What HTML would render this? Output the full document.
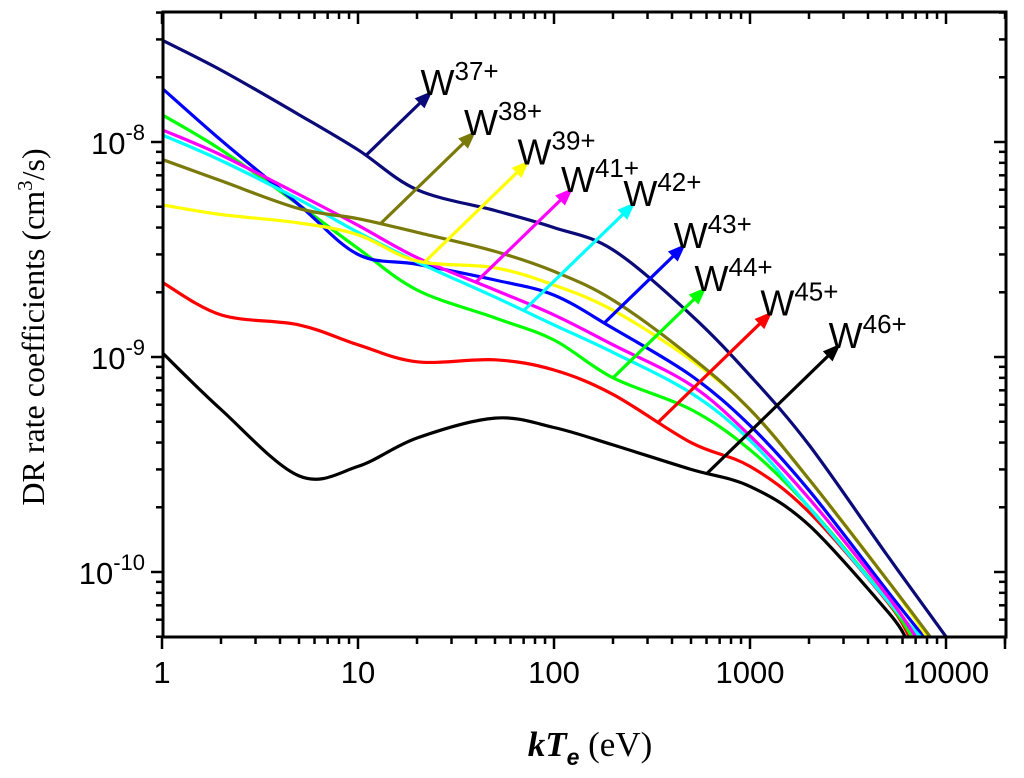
<!DOCTYPE html>
<html><head><meta charset="utf-8"><style>
body{margin:0;background:#fff}
svg{display:block}
text{font-family:"Liberation Sans",Arial,sans-serif}
</style></head><body>
<svg id="chart" width="1024" height="778" viewBox="0 0 1024 778" xmlns="http://www.w3.org/2000/svg">
<g id="curves"></g>
<g id="arrows"></g>
<g id="axes"></g>
<text transform="translate(44,327) rotate(-90)" text-anchor="middle" style="font-family:'Liberation Serif',serif;font-size:32px">DR rate coefficients (cm<tspan dy="-12" font-size="21">3</tspan><tspan dy="12">/s)</tspan></text>
<text x="590" y="756" text-anchor="middle" style="font-family:'Liberation Serif',serif;font-size:35px"><tspan font-weight="bold" font-style="italic">kT</tspan><tspan font-weight="bold" font-style="italic" font-size="23" dy="9" style="font-family:'Liberation Sans',sans-serif">e</tspan><tspan dy="-9"> (eV)</tspan></text>
</svg>
<script>
const ions = ["W37+","W38+","W39+","W41+","W42+","W43+","W44+","W45+","W46+"];
const colors = ["#0a0a78","#7a7a0a","#ffff00","#ff00ff","#00ffff","#0000ff","#00ff00","#ff0000","#000000"];
const temps = [1,2,5,10,20,50,100,200,500,1000,2000,5000];
// values in units of 1e-9 cm^3/s
const sW37 = [29.8,21.6,13.4,9.2,6.0,4.8,4.0,3.15,1.57,0.82,0.39,0.12];
const sW38 = [8.3,6.6,4.9,4.4,3.8,3.1,2.5,1.84,1.0,0.57,0.27,0.092];
const sW39 = [5.1,4.6,4.2,3.7,2.8,2.6,2.16,1.65,0.97,0.57,0.27,0.092];
const sW41 = [11.4,8.7,5.7,4.1,2.9,2.05,1.57,1.14,0.74,0.43,0.22,0.078];
const sW42 = [10.8,8.2,5.4,3.8,2.77,1.9,1.41,1.05,0.68,0.41,0.2,0.074];
const sW43 = [17.8,10.2,5.1,3.0,2.7,2.28,1.94,1.36,0.82,0.48,0.24,0.082];
const sW44 = [13.4,9.2,5.1,3.2,2.05,1.52,1.2,0.8,0.57,0.37,0.2,0.074];
const sW45 = [2.23,1.57,1.41,1.14,0.95,0.97,0.87,0.67,0.40,0.31,0.19,0.073];
const sW46 = [1.05,0.57,0.28,0.31,0.42,0.52,0.47,0.39,0.3,0.25,0.165,0.066];
const endT = [10000,8300,8000,7000,7400,7700,6700,6500,6200];
const series = [sW37,sW38,sW39,sW41,sW42,sW43,sW44,sW45,sW46];
const arrowT = [11,13,22,40,70,180,200,340,600];
const arrowTipT = [24,40,75,125,260,470,600,1300,2900];
const xTicks = [1,10,100,1000,10000];
const yTicks = [-10,-9,-8];

const L=163,R=1006,T=12,B=637;
function X(t){return 162+196*Math.log10(t);}
function Y(v){return 357-215*Math.log10(v);} // v in 1e-9
const NS="http://www.w3.org/2000/svg";
function mk(tag,attrs,parent){const e=document.createElementNS(NS,tag);for(const k in attrs)e.setAttribute(k,attrs[k]);parent.appendChild(e);return e;}
function interp(arr,t){const lt=Math.log10(t);for(let i=0;i<temps.length-1;i++){const a=Math.log10(temps[i]),b=Math.log10(temps[i+1]);if(lt>=a&&lt<=b){const f=(lt-a)/(b-a);return Math.pow(10,Math.log10(arr[i])*(1-f)+Math.log10(arr[i+1])*f);}}return arr[arr.length-1];}

const cg=document.getElementById('curves');
const clip=mk('clipPath',{id:'pc'},document.getElementById('chart'));
mk('rect',{x:L,y:T,width:R-L,height:B-T},clip);
cg.setAttribute('clip-path','url(#pc)');
for(let s=series.length-1;s>=0;s--){
  const pts=temps.map((t,i)=>[X(t),Y(series[s][i])]);
  pts.push([X(endT[s]),Y(0.05)]);
  let d="M"+pts[0][0]+","+pts[0][1];
  for(let i=0;i<pts.length-1;i++){
    const p0=pts[Math.max(0,i-1)],p1=pts[i],p2=pts[i+1],p3=pts[Math.min(pts.length-1,i+2)];
    const c1=[p1[0]+(p2[0]-p0[0])/6,p1[1]+(p2[1]-p0[1])/6];
    const c2=[p2[0]-(p3[0]-p1[0])/6,p2[1]-(p3[1]-p1[1])/6];
    d+=" C"+c1[0].toFixed(1)+","+c1[1].toFixed(1)+" "+c2[0].toFixed(1)+","+c2[1].toFixed(1)+" "+p2[0].toFixed(1)+","+p2[1].toFixed(1);
  }
  const p=mk('path',{d:d,fill:'none',stroke:colors[s],'stroke-width':3.2},cg);
  
  
}
const ag=document.getElementById('arrows');
for(let s=0;s<ions.length;s++){
  const x0=X(arrowT[s]),y0=Y(interp(series[s],arrowT[s]));
  const x1=X(arrowTipT[s]);
  const dx=x1-x0,dy=-dx*0.97;
  const x2=x1,y2=y0+dy;
  const len=Math.hypot(dx,dy),ux=dx/len,uy=dy/len;
  const g=mk('g',{},ag);
  
  
  mk('line',{x1:x0,y1:y0,x2:x2-ux*12,y2:y2-uy*12,stroke:colors[s],'stroke-width':3.2},g);
  const bx=x2-ux*18,by=y2-uy*18;
  mk('polygon',{points:`${x2},${y2} ${bx-uy*7},${by+ux*7} ${bx+uy*7},${by-ux*7}`,fill:colors[s]},g);
  const lab=mk('text',{x:x2-12,y:y2+4,'font-size':36},ag);
  
  
  const num=ions[s].slice(1);
  lab.innerHTML='W<tspan dy="-15" font-size="26">'+num+'</tspan>';
}
const ax=document.getElementById('axes');
const fr=mk('rect',{x:L,y:T,width:R-L,height:B-T,fill:'none',stroke:'#000','stroke-width':3},ax);


for(let d=0;d<=4;d++){for(let m=1;m<10;m++){const t=Math.pow(10,d)*m;const x=X(t);if(x>R)continue;const len=m===1?12:7;
  mk('line',{x1:x,y1:B,x2:x,y2:B+len,stroke:'#000','stroke-width':2.5},ax);
  mk('line',{x1:x,y1:T,x2:x,y2:T+len,stroke:'#000','stroke-width':2.5},ax);}}
mk('line',{x1:R-1,y1:B,x2:R-1,y2:B+12,stroke:'#000','stroke-width':2.5},ax);
xTicks.forEach(t=>{const e=mk('text',{x:X(t),y:B+46,'text-anchor':'middle','font-size':31},ax);e.textContent=t;
  });
for(let e=-11;e<=-8;e++){for(let m=1;m<10;m++){const v=Math.pow(10,e+9)*m;const y=Y(v);if(y>B+1||y<T)continue;const len=m===1?12:7;
  mk('line',{x1:L,y1:y,x2:L-len,y2:y,stroke:'#000','stroke-width':2.5},ax);
  mk('line',{x1:R,y1:y,x2:R-len,y2:y,stroke:'#000','stroke-width':2.5},ax);}}
yTicks.forEach(e=>{const y=Y(Math.pow(10,e+9));const t=mk('text',{x:L-18,y:y+12,'text-anchor':'end','font-size':31},ax);
  t.innerHTML='10<tspan dy="-14" font-size="22">'+e+'</tspan>';
  });
</script>
</body></html>
